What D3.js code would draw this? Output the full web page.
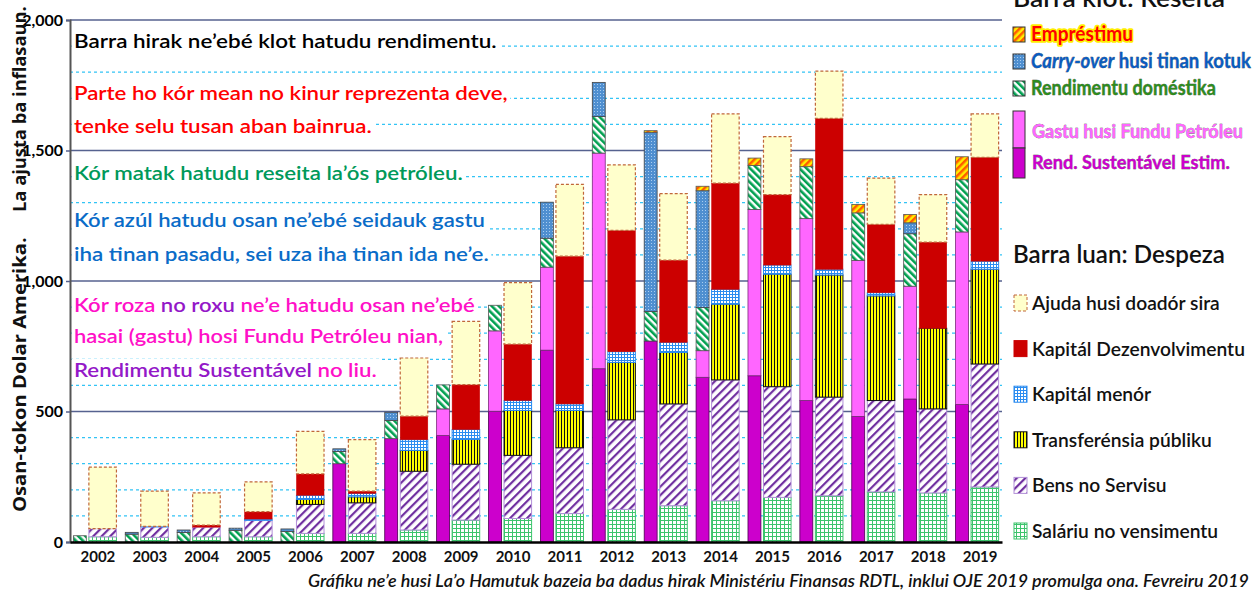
<!DOCTYPE html>
<html>
<head>
<meta charset="utf-8">
<script src="https://cdn.jsdelivr.net/npm/d3@7"></script>
<style>
  body { margin: 0; background: #fff; }
  svg { display: block; }
</style>
</head>
<body>
<div id="chart"></div>
<script>
// years on the x axis
var years = [2002, 2003, 2004, 2005, 2006, 2007, 2008, 2009, 2010, 2011, 2012, 2013, 2014, 2015, 2016, 2017, 2018, 2019];

// revenue bar (millions US$, inflation adjusted)
var sustentavel  = [0, 0, 0, 0, 0, 300, 396, 408, 501, 735, 664, 770, 631, 637, 542, 481, 548, 527];
var gastuFundu   = [0, 0, 0, 0, 0, 0, 0, 102, 308, 318, 826, 0, 102, 637, 697, 598, 432, 661];
var domestika    = [24, 30, 37, 45, 40, 47, 70, 92, 98, 111, 140, 113, 165, 169, 199, 182, 201, 200];
var carryOver    = [0, 7, 9, 8, 10, 10, 31, 0, 0, 138, 131, 687, 448, 0, 0, 0, 42, 0];
var emprestimu   = [0, 0, 0, 0, 0, 0, 0, 0, 0, 0, 0, 6, 17, 28, 30, 32, 32, 88];

// spending bar
var salariu       = [20, 18, 20, 20, 33, 33, 46, 84, 90, 109, 125, 139, 158, 171, 177, 192, 188, 211];
var bens          = [31, 40, 37, 63, 111, 117, 225, 214, 242, 252, 343, 390, 463, 424, 378, 350, 322, 471];
var transferensia = [0, 0, 0, 0, 19, 23, 80, 95, 172, 143, 220, 197, 290, 431, 468, 401, 309, 363];
var kapitalMenor  = [0, 2, 0, 5, 16, 13, 41, 38, 38, 25, 41, 39, 57, 35, 22, 12, 0, 31];
var kapitalDezenv = [0, 0, 8, 28, 82, 9, 90, 172, 216, 566, 465, 315, 407, 270, 578, 262, 330, 398];
var ajudaDoador   = [236, 135, 123, 114, 163, 197, 223, 242, 236, 275, 251, 255, 265, 222, 181, 177, 182, 166];

var yTicks = [0, 500, 1000, 1500, 2000];

var W = 1260, H = 595;
var svg = d3.select("#chart").append("svg").attr("width", W).attr("height", H);
var defs = svg.append("defs");

// stretch a text (or group holding one) horizontally about x0 so it spans `target` px
function stretch(sel, x0, target, textNode) {
  var w = (textNode || sel.node()).getComputedTextLength();
  var k = target / w;
  sel.attr("transform", "translate(" + x0 + ",0) scale(" + k + ",1) translate(" + (-x0) + ",0)");
}

// ---- fill patterns ----
function stripes(id, size, angle, bg, fg, sw) {
  var p = defs.append("pattern").attr("id", id).attr("patternUnits", "userSpaceOnUse")
    .attr("width", size).attr("height", size).attr("patternTransform", "rotate(" + angle + ")");
  p.append("rect").attr("width", size).attr("height", size).attr("fill", bg);
  p.append("rect").attr("width", sw).attr("height", size).attr("fill", fg);
}
function grid(id, size, bg, fg) {
  var p = defs.append("pattern").attr("id", id).attr("patternUnits", "userSpaceOnUse")
    .attr("width", size).attr("height", size);
  p.append("rect").attr("width", size).attr("height", size).attr("fill", bg);
  p.append("path").attr("d", "M0,0.5H" + size + "M0.5,0V" + size)
    .attr("stroke", fg).attr("stroke-width", 1).attr("fill", "none");
}
stripes("pTransfer", 3, 0, "#ffff00", "#111", 1);
stripes("pBens", 6, 45, "#ffffff", "#7030a0", 2.2);
stripes("pDom", 5, -45, "#ffffff", "#00a050", 2.6);
stripes("pEmp", 5, 45, "#ffee00", "#ff5a00", 2.5);
grid("pSal", 4, "#ffffff", "#3cc46c");
grid("pKm", 3, "#ffffff", "#2b8cf0");
(function () {
  var p = defs.append("pattern").attr("id", "pCarry").attr("patternUnits", "userSpaceOnUse")
    .attr("width", 3).attr("height", 3);
  p.append("rect").attr("width", 3).attr("height", 3).attr("fill", "#4f8fd0");
  p.append("rect").attr("width", 1).attr("height", 1).attr("fill", "#a9cdf0");
})();

var styles = {
  sustentavel:   { fill: "#cc00cc", stroke: "#4a0050", w: 0.8 },
  gastuFundu:    { fill: "#ff66ff", stroke: "#7a2a7a", w: 0.8 },
  domestika:     { fill: "url(#pDom)", stroke: "#555", w: 0.8 },
  carryOver:     { fill: "url(#pCarry)", stroke: "#444", w: 0.8 },
  emprestimu:    { fill: "url(#pEmp)", stroke: "#555", w: 0.8 },
  salariu:       { fill: "url(#pSal)", stroke: "#3cc46c", w: 1 },
  bens:          { fill: "url(#pBens)", stroke: "#b28fd8", w: 1 },
  transferensia: { fill: "url(#pTransfer)", stroke: "#111", w: 1 },
  kapitalMenor:  { fill: "url(#pKm)", stroke: "#2b8cf0", w: 1 },
  kapitalDezenv: { fill: "#cc0000", stroke: "#cc0000", w: 0.5 },
  ajudaDoador:   { fill: "#ffffcc", stroke: "#c0673a", w: 1.2, dash: "3,2" }
};

// ---- scales ----
var x = d3.scaleBand().domain(years).range([70, 1002]).paddingInner(0.17).paddingOuter(0.065);
var y = d3.scaleLinear().domain([0, 2000]).range([542, 20]);
var bw = x.bandwidth();
var revW = bw * 0.3, expX = bw * 0.36, expW = bw - expX;

// ---- gridlines ----
var gridVals = d3.range(100, 2001, 100);
svg.append("g").selectAll("line").data(gridVals).enter().append("line")
  .attr("x1", 70).attr("x2", 1002)
  .attr("y1", function (d) { return y(d); }).attr("y2", function (d) { return y(d); })
  .attr("stroke", function (d) { return d % 500 === 0 ? "#56628f" : "#33c4f5"; })
  .attr("stroke-width", function (d) { return d % 500 === 0 ? 1.4 : 1.3; })
  .attr("stroke-dasharray", function (d) { return d % 500 === 0 ? null : "3,3"; });

// ---- annotation text block (white background per line) ----
var notes = svg.append("g").attr("font-family", "Lato, 'Open Sans', sans-serif")
  .attr("font-weight", 600).attr("font-size", "19px");
var noteLines = [
  { y: 48,  w: 423, parts: [["Barra hirak ne\u2019ebé klot hatudu rendimentu.", "#000"]] },
  { y: 100, w: 434, parts: [["Parte ho kór mean no kinur reprezenta deve,", "#ff0000"]] },
  { y: 133, w: 298, parts: [["tenke selu tusan aban bainrua.", "#ff0000"]] },
  { y: 180, w: 389, parts: [["Kór matak hatudu reseita la\u2019ós petróleu.", "#00995a"]] },
  { y: 227, w: 411, parts: [["Kór azúl hatudu osan ne\u2019ebé seidauk gastu", "#0a6cc8"]] },
  { y: 261, w: 415, parts: [["iha tinan pasadu, sei uza iha tinan ida ne\u2019e.", "#0a6cc8"]] },
  { y: 312, w: 401, parts: [["Kór roza ", "#ff10c8"], ["no roxu", "#9418c8"], [" ne\u2019e hatudu osan ne\u2019ebé", "#ff10c8"]] },
  { y: 343, w: 369, parts: [["hasai (gastu) hosi Fundu Petróleu nian,", "#ff10c8"]] },
  { y: 377, w: 303, parts: [["Rendimentu Sustentável", "#9418c8"], [" no liu.", "#ff10c8"]] }
];
noteLines.forEach(function (ln) {
  var g = notes.append("g");
  var t = g.append("text").attr("x", 74).attr("y", ln.y).style("white-space", "pre");
  ln.parts.forEach(function (p) { t.append("tspan").attr("fill", p[1]).text(p[0]); });
  var b = t.node().getBBox();
  g.insert("rect", "text").attr("x", b.x - 2).attr("y", b.y + 1).attr("width", b.width + 4)
    .attr("height", b.height - 2).attr("fill", "#fff");
  stretch(g, 74, ln.w, t.node());
});

// ---- stacked bars ----
function table(keys, arrays) {
  return years.map(function (yr, i) {
    var row = { year: yr };
    keys.forEach(function (k, j) { row[k] = arrays[j][i]; });
    return row;
  });
}
var revKeys = ["sustentavel", "gastuFundu", "domestika", "carryOver", "emprestimu"];
var expKeys = ["salariu", "bens", "transferensia", "kapitalMenor", "kapitalDezenv", "ajudaDoador"];
var revStack = d3.stack().keys(revKeys)(table(revKeys, [sustentavel, gastuFundu, domestika, carryOver, emprestimu]));
var expStack = d3.stack().keys(expKeys)(table(expKeys, [salariu, bens, transferensia, kapitalMenor, kapitalDezenv, ajudaDoador]));

function drawStack(layers, offset, width) {
  var g = svg.append("g");
  layers.forEach(function (layer) {
    var s = styles[layer.key];
    g.selectAll(null).data(layer.filter(function (d) { return d[1] > d[0]; })).enter().append("rect")
      .attr("x", function (d) { return x(d.data.year) + offset; })
      .attr("width", width)
      .attr("y", function (d) { return y(d[1]); })
      .attr("height", function (d) { return y(d[0]) - y(d[1]); })
      .attr("fill", s.fill)
      .attr("stroke", s.stroke)
      .attr("stroke-width", s.w)
      .attr("stroke-dasharray", s.dash || null);
  });
}
drawStack(revStack, 0, revW);
drawStack(expStack, expX, expW);

// ---- axes ----
var yAxis = d3.axisLeft(y).tickValues(yTicks).tickFormat(d3.format(",")).tickSize(4).tickPadding(3);
var gy = svg.append("g").attr("transform", "translate(70,0)").call(yAxis);
gy.select(".domain").attr("stroke", "#555").attr("stroke-width", 2);
gy.selectAll(".tick line").attr("stroke", "#56628f").attr("stroke-width", 1.5);
gy.selectAll(".tick text").attr("font-family", "Lato, sans-serif").attr("font-weight", 700)
  .attr("font-size", "16px").attr("fill", "#000");

var xAxis = d3.axisBottom(x).tickSize(0).tickPadding(9);
var gx = svg.append("g").attr("transform", "translate(0,542)").call(xAxis);
gx.select(".domain").attr("stroke", "#000").attr("stroke-width", 2.5);
gx.selectAll(".tick").attr("transform", function (d) { return "translate(" + (x(d) + bw / 2 + 3) + ",0)"; });
gx.selectAll(".tick text").attr("font-family", "Lato, sans-serif").attr("font-weight", 700)
  .attr("font-size", "15px").attr("fill", "#111");

// y-axis title (two pieces, read bottom to top)
var yTitle = svg.append("g").attr("transform", "translate(26,0) rotate(-90)")
  .attr("font-family", "'Open Sans', sans-serif").attr("font-weight", 700).attr("font-size", "18.5px")
  .attr("fill", "#111");
[["Osan-tokon Dolar Amerika.", 512, 275], ["La ajusta ba inflasaun.", 212, 206]].forEach(function (d) {
  var t = yTitle.append("text").attr("x", -d[1]).attr("y", 0).text(d[0]);
  stretch(t, -d[1], d[2]);
});

// caption
var cap = svg.append("text").attr("x", 1249).attr("y", 587).attr("text-anchor", "end")
  .attr("font-family", "Lato, sans-serif").attr("font-style", "italic").attr("font-weight", 600)
  .attr("font-size", "17px").attr("fill", "#111")
  .text("Gráfiku ne\u2019e husi La\u2019o Hamutuk bazeia ba dadus hirak Ministériu Finansas RDTL, inklui OJE 2019 promulga ona. Fevreiru 2019");
stretch(cap, 1249, 942);

// ---- legend: revenue ----
var leg = svg.append("g").attr("font-family", "Lato, sans-serif");
var t1 = leg.append("text").attr("x", 1013).attr("y", 7).attr("font-size", "24px").attr("font-weight", 600)
  .attr("fill", "#111").text("Barra klot: Reseita");
stretch(t1, 1013, 212);

var revLegend = [
  { key: "emprestimu", y: 27, w: 102, label: [["Empréstimu", "#ff0000", "normal"]], glow: "#ffee00" },
  { key: "carryOver", y: 54, w: 220, label: [["Carry-over", "#0a5cc0", "italic"], [" husi tinan kotuk", "#0a5cc0", "normal"]] },
  { key: "domestika", y: 81, w: 185, label: [["Rendimentu doméstika", "#2e8b1e", "normal"]] }
];
revLegend.forEach(function (d) {
  var s = styles[d.key];
  leg.append("rect").attr("x", 1013).attr("y", d.y).attr("width", 12).attr("height", 15)
    .attr("fill", s.fill).attr("stroke", "#333").attr("stroke-width", 1);
  var t = leg.append("text").attr("x", 1031).attr("y", d.y + 14).attr("font-size", "20px")
    .attr("font-weight", 700).style("white-space", "pre")
    .attr("stroke", d.glow || "#333").attr("stroke-width", d.glow ? 3.5 : 0.4)
    .attr("paint-order", "stroke").attr("stroke-linejoin", "round");
  d.label.forEach(function (p) {
    t.append("tspan").attr("fill", p[1]).attr("font-style", p[2]).text(p[0]);
  });
  stretch(t, 1031, d.w);
});
leg.append("rect").attr("x", 1013).attr("y", 111).attr("width", 12).attr("height", 37)
  .attr("fill", styles.gastuFundu.fill).attr("stroke", "#333");
leg.append("rect").attr("x", 1013).attr("y", 148).attr("width", 12).attr("height", 30)
  .attr("fill", styles.sustentavel.fill).attr("stroke", "#333");
[["Gastu husi Fundu Petróleu", "#ff66ff", 138, 211], ["Rend. Sustentável Estim.", "#cc00cc", 169, 198]].forEach(function (d) {
  var t = leg.append("text").attr("x", 1032).attr("y", d[2]).attr("font-size", "19px").attr("font-weight", 700)
    .attr("fill", d[1]).attr("stroke", "#333").attr("stroke-width", 0.4).attr("paint-order", "stroke")
    .text(d[0]);
  stretch(t, 1032, d[3]);
});

// ---- legend: spending ----
var t2 = leg.append("text").attr("x", 1013).attr("y", 263).attr("font-size", "24px").attr("font-weight", 600)
  .attr("fill", "#111").text("Barra luan: Despeza");
stretch(t2, 1013, 212);
var expLegend = [
  ["ajudaDoador", "Ajuda husi doadór sira"],
  ["kapitalDezenv", "Kapitál Dezenvolvimentu"],
  ["kapitalMenor", "Kapitál menór"],
  ["transferensia", "Transferénsia públiku"],
  ["bens", "Bens no Servisu"],
  ["salariu", "Saláriu no vensimentu"]
];
var legY = d3.scalePoint().domain(expLegend.map(function (d) { return d[0]; })).range([303, 531]);
var legFirst = null, legK = 1;
expLegend.forEach(function (d, i) {
  var s = styles[d[0]];
  var cy = legY(d[0]);
  leg.append("rect").attr("x", 1014).attr("y", cy - 8).attr("width", 13).attr("height", 16)
    .attr("fill", s.fill).attr("stroke", s.stroke).attr("stroke-width", 1)
    .attr("stroke-dasharray", s.dash || null);
  var t = leg.append("text").attr("x", 1032).attr("y", cy + 7).attr("font-size", "19.5px").attr("font-weight", 600)
    .attr("fill", "#111").text(d[1]);
  // same horizontal scale for all items, set by "Kapitál Dezenvolvimentu" spanning 213px
  if (i === 1) legK = 213 / t.node().getComputedTextLength();
  legFirst = legFirst || [];
  legFirst.push(t);
});
legFirst.forEach(function (t) {
  t.attr("transform", "translate(1032,0) scale(" + legK + ",1) translate(-1032,0)");
});
</script>
</body>
</html>
